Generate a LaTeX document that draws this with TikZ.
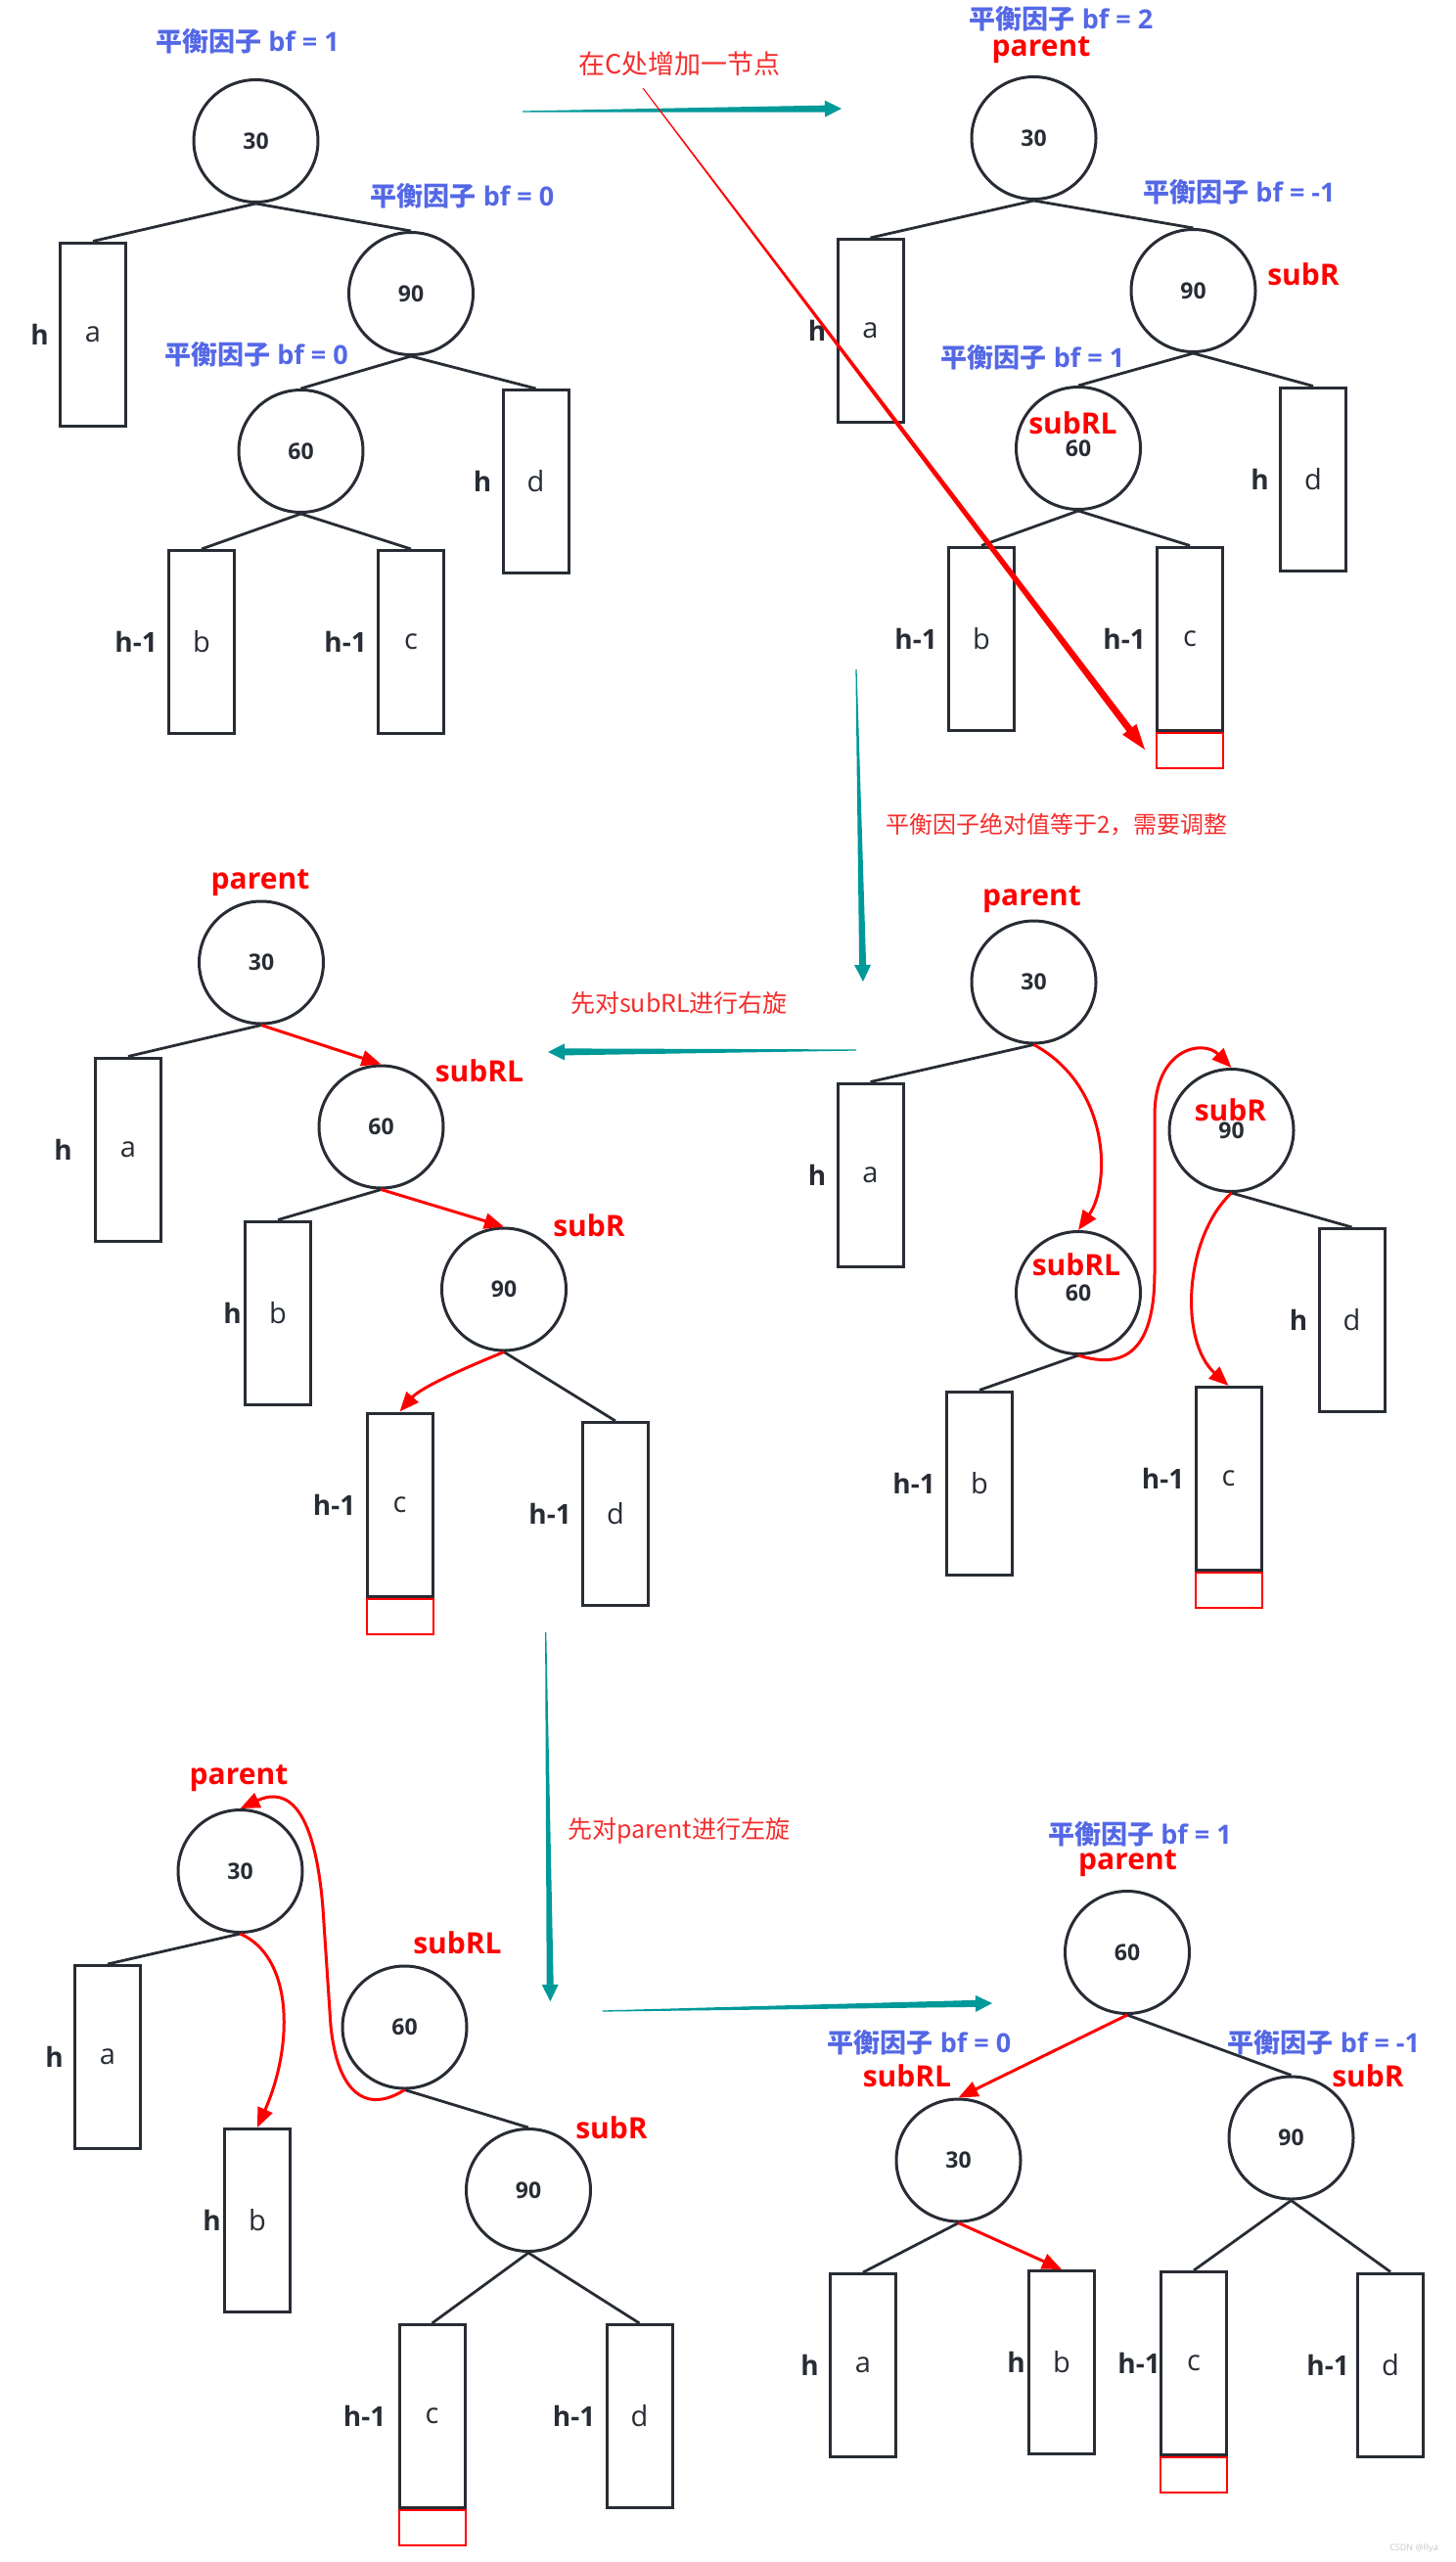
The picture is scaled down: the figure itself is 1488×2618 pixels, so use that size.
\documentclass[tikz,border=0pt]{standalone}
\usepackage{fontspec}
\setmainfont{Open Sans}
\newfontfamily\cjk{Noto Sans CJK SC}
\usetikzlibrary{calc,shapes.geometric,arrows.meta}
\definecolor{ink}{RGB}{40,44,52}
\definecolor{tealc}{RGB}{0,153,153}
\definecolor{bfblue}{RGB}{84,104,230}
\definecolor{rednote}{RGB}{245,45,45}
\newcommand\mynum{\bfseries\fontsize{23}{27}\selectfont}
\newcommand\myleaf{\fontsize{29}{34}\selectfont}
\newcommand\myh{\bfseries\fontsize{28}{33}\selectfont}
\newcommand\myrole{\bfseries\fontsize{30}{35}\selectfont}
\newcommand\mybf{\bfseries\fontsize{27}{32}\selectfont}
\newcommand\bfcjk[1]{{\cjk\bfseries #1}}
\newcommand\mynote[1]{\cjk\fontsize{#1}{#1}\selectfont}
% start, end, start half width, shaft end half width, head length, head half width, colour
\newcommand\taperarrow[7]{%
  \coordinate (tH) at ($(#2)!#5!(#1)$);
  \fill[#7] ($(#1)!#3!90:(#2)$) -- ($(tH)!#4!90:(#2)$) -- ($(tH)!#6!90:(#2)$) -- (#2)
     -- ($(tH)!#6!-90:(#2)$) -- ($(tH)!#4!-90:(#2)$) -- ($(#1)!#3!-90:(#2)$) -- cycle;
}
\tikzset{
  tnode/.style={ellipse, draw=ink, line width=3pt, minimum width=127pt, minimum height=125pt, inner sep=0pt, font=\mynum, text=ink},
  leaf/.style={rectangle, draw=ink, line width=3pt, minimum width=67pt, minimum height=187pt, inner sep=0pt, font=\myleaf, text=ink},
  newbox/.style={rectangle, draw=red, line width=2pt, minimum width=68pt, minimum height=36pt, inner sep=0pt, anchor=north},
  edge/.style={draw=ink, line width=2.8pt},
  rot/.style={draw=red, line width=3pt, -{Triangle[length=20pt,width=16pt]}},
  bflab/.style={text=bfblue, font=\mybf, inner sep=0pt},
  role/.style={text=red, font=\myrole, inner sep=0pt},
  note/.style={text=rednote, anchor=west, inner sep=0pt},
  hl/.style={text=ink, font=\myh, anchor=east, inner sep=0pt},
}
\begin{document}
\begin{tikzpicture}[x=1pt,y=-1pt]
\useasboundingbox (0,0) rectangle (1488,2618);

% ---------------- Panel 1
\node[tnode] (p1n30) at (261.5,144) {30};
\node[tnode] (p1n90) at (420,300) {90};
\node[tnode] (p1n60) at (307.5,461) {60};
\node[leaf] (p1a) at (95,341.5) {a};
\node[leaf] (p1d) at (547.5,492) {d};
\node[leaf] (p1b) at (206,656) {b};
\node[leaf] (p1c) at (420,656) {c};
\draw[edge] (p1n30.south) -- (p1a.north);
\draw[edge] (p1n30.south) -- (p1n90.north);
\draw[edge] (p1n90.south) -- (p1n60.north);
\draw[edge] (p1n90.south) -- (p1d.north);
\draw[edge] (p1n60.south) -- (p1b.north);
\draw[edge] (p1n60.south) -- (p1c.north);
\node[hl] (p1ha) at ($(p1a.west)+(-10,0)$) {h};
\node[hl] (p1hd) at ($(p1d.west)+(-10,0)$) {h};
\node[hl] (p1hb) at ($(p1b.west)+(-10,0)$) {h-1};
\node[hl] (p1hc) at ($(p1c.west)+(-10,0)$) {h-1};
\node[bflab] (p1bf1) at (253,42) {\bfcjk{平衡因子} bf = 1};
\node[bflab] (p1bf2) at (472.5,200) {\bfcjk{平衡因子} bf = 0};
\node[bflab] (p1bf3) at (262,362) {\bfcjk{平衡因子} bf = 0};

\node[note, font=\mynote{27}] (note1) at (591,65) {在C处增加一节点};

% ---------------- Panel 2
\node[tnode] (p2n30) at (1056.5,141) {30};
\node[tnode] (p2n90) at (1219.5,297) {90};
\node[tnode] (p2n60) at (1102,458) {60};
\node[leaf] (p2a) at (889.5,338) {a};
\node[leaf] (p2d) at (1342,489.5) {d};
\node[leaf] (p2b) at (1003,652.5) {b};
\node[leaf] (p2c) at (1216,652.5) {c};
\node[newbox] (p2new) at (p2c.south) {};
\draw[edge] (p2n30.south) -- (p2a.north);
\draw[edge] (p2n30.south) -- (p2n90.north);
\draw[edge] (p2n90.south) -- (p2n60.north);
\draw[edge] (p2n90.south) -- (p2d.north);
\draw[edge] (p2n60.south) -- (p2b.north);
\draw[edge] (p2n60.south) -- (p2c.north);
\node[hl] (p2ha) at ($(p2a.west)+(-10,0)$) {h};
\node[hl] (p2hd) at ($(p2d.west)+(-10,0)$) {h};
\node[hl] (p2hb) at ($(p2b.west)+(-10,0)$) {h-1};
\node[hl] (p2hc) at ($(p2c.west)+(-10,0)$) {h-1};
\node[bflab] (p2bf1) at (1084.5,19) {\bfcjk{平衡因子} bf = 2};
\node[bflab] (p2bf2) at (1266.5,196) {\bfcjk{平衡因子} bf = -1};
\node[bflab] (p2bf3) at (1055.5,365) {\bfcjk{平衡因子} bf = 1};
\node[role] (p2par) at (1064,51) {parent};
\node[role] (p2sr) at (1332,280) {subR};
\node[role] (p2srl) at (1096.5,432) {subRL};

% arrows of step 1
\coordinate (t1s) at (534,114); \coordinate (t1e) at (860,111);
\taperarrow{t1s}{t1e}{0.6pt}{3.5pt}{17pt}{8.5pt}{tealc}
\coordinate (r1s) at (657,90); \coordinate (r1e) at (1170,766);
\taperarrow{r1s}{r1e}{0.5pt}{3.5pt}{26pt}{9pt}{red}

% ---------------- step 2 arrow
\coordinate (t2s) at (875,684); \coordinate (t2e) at (882,1003);
\taperarrow{t2s}{t2e}{0.6pt}{3.5pt}{17pt}{8.5pt}{tealc}
\node[note, font=\mynote{24}] (note2) at (905,843) {平衡因子绝对值等于2，需要调整};

% ---------------- Panel 4
\node[tnode] (p4n30) at (1056.5,1003.5) {30};
\node[tnode] (p4n60) at (1102,1321) {60};
\node[tnode] (p4n90) at (1258.5,1155) {90};
\node[leaf] (p4a) at (889.5,1200.5) {a};
\node[leaf] (p4d) at (1381.5,1349) {d};
\node[leaf] (p4b) at (1001,1515.5) {b};
\node[leaf] (p4c) at (1255.5,1511) {c};
\node[newbox] (p4new) at (p4c.south) {};
\draw[edge] (p4n30.south) -- (p4a.north);
\draw[edge] (p4n60.south) -- (p4b.north);
\draw[edge] (p4n90.south) -- (p4d.north);
\draw[rot] (p4n30.south) .. controls (1135,1110) and (1135,1210) .. (p4n60.north);
\draw[rot] (p4n60.south) .. controls (1150,1400) and (1180,1380) .. (1180,1300) -- (1180,1140) .. controls (1180,1070) and (1230,1062) .. (p4n90.north);
\draw[rot] (p4n90.south) .. controls (1210,1265) and (1205,1370) .. (p4c.north);
\node[hl] (p4ha) at ($(p4a.west)+(-10,0)$) {h};
\node[hl] (p4hd) at ($(p4d.west)+(-10,0)$) {h};
\node[hl] (p4hb) at ($(p4b.west)+(-10,0)$) {h-1};
\node[hl] (p4hc) at ($(p4c.west)+(-10,0)$) {h-1};
\node[role] (p4par) at (1054.5,919.5) {parent};
\node[role] (p4srl) at (1100,1292) {subRL};
\node[role] (p4sr) at (1257.5,1134) {subR};

% ---------------- step 3 arrow
\coordinate (t3s) at (875,1073); \coordinate (t3e) at (560,1075);
\taperarrow{t3s}{t3e}{0.6pt}{3.5pt}{17pt}{8.5pt}{tealc}
\node[note, font=\mynote{25}] (note3) at (583,1025) {先对subRL进行右旋};

% ---------------- Panel 3
\node[tnode] (p3n30) at (267,983.5) {30};
\node[tnode] (p3n60) at (389.5,1151.5) {60};
\node[tnode] (p3n90) at (515,1317.5) {90};
\node[leaf] (p3a) at (131,1174.5) {a};
\node[leaf] (p3b) at (284,1341.5) {b};
\node[leaf] (p3c) at (408.5,1537.5) {c};
\node[leaf] (p3d) at (629,1547) {d};
\node[newbox] (p3new) at (p3c.south) {};
\draw[edge] (p3n30.south) -- (p3a.north);
\draw[edge] (p3n60.south) -- (p3b.north);
\draw[edge] (p3n90.south) -- (p3d.north);
\draw[rot] (p3n30.south) -- (p3n60.north);
\draw[rot] (p3n60.south) -- (p3n90.north);
\draw[rot] (p3n90.south) .. controls (470,1400) and (430,1418) .. (p3c.north);
\node[hl] (p3ha) at ($(p3a.west)+(-22,0)$) {h};
\node[hl] (p3hb) at ($(p3b.west)+(-2,0)$) {h};
\node[hl] (p3hc) at ($(p3c.west)+(-10,0)$) {h-1};
\node[hl] (p3hd) at ($(p3d.west)+(-10,0)$) {h-1};
\node[role] (p3par) at (266,902.6) {parent};
\node[role] (p3srl) at (490,1094) {subRL};
\node[role] (p3sr) at (602,1252) {subR};

% ---------------- step 4 arrows
\coordinate (t4s) at (557.7,1668); \coordinate (t4e) at (562.4,2045);
\taperarrow{t4s}{t4e}{0.6pt}{3.5pt}{17pt}{8.5pt}{tealc}
\node[note, font=\mynote{25}] (note4) at (580,1871) {先对parent进行左旋};
\coordinate (t5s) at (615.6,2055); \coordinate (t5e) at (1014,2047);
\taperarrow{t5s}{t5e}{0.6pt}{3.5pt}{17pt}{8.5pt}{tealc}

% ---------------- Panel 5
\node[tnode] (p5n30) at (245.5,1912) {30};
\node[tnode] (p5n60) at (413.5,2071.5) {60};
\node[tnode] (p5n90) at (540,2238) {90};
\node[leaf] (p5a) at (110,2102) {a};
\node[leaf] (p5b) at (263,2269) {b};
\node[leaf] (p5c) at (441.5,2469) {c};
\node[leaf] (p5d) at (653.5,2469) {d};
\node[newbox] (p5new) at (p5c.south) {};
\draw[edge] (p5n30.south) -- (p5a.north);
\draw[edge] (p5n60.south) -- (p5n90.north);
\draw[edge] (p5n90.south) -- (p5c.north);
\draw[edge] (p5n90.south) -- (p5d.north);
\draw[rot] (p5n60.south) .. controls (375,2160) and (345,2140) .. (338,2070) -- (330,1950) .. controls (322,1850) and (295,1825) .. (p5n30.north);
\draw[rot] (p5n30.south) .. controls (300,2000) and (300,2090) .. (p5b.north);
\node[hl] (p5ha) at ($(p5a.west)+(-10,0)$) {h};
\node[hl] (p5hb) at ($(p5b.west)+(-2,0)$) {h};
\node[hl] (p5hc) at ($(p5c.west)+(-12,0)$) {h-1};
\node[hl] (p5hd) at ($(p5d.west)+(-10,0)$) {h-1};
\node[role] (p5par) at (244,1817) {parent};
\node[role] (p5srl) at (467.5,1985) {subRL};
\node[role] (p5sr) at (625,2174) {subR};

% ---------------- Panel 6
\node[tnode] (p6n60) at (1152,1995) {60};
\node[tnode] (p6n30) at (979.5,2207.5) {30};
\node[tnode] (p6n90) at (1319.5,2184.5) {90};
\node[leaf] (p6a) at (882,2417) {a};
\node[leaf] (p6b) at (1085,2414) {b};
\node[leaf] (p6c) at (1220,2415) {c};
\node[leaf] (p6d) at (1421,2416.5) {d};
\node[newbox] (p6new) at (p6c.south) {};
\draw[edge] (p6n60.south) -- (p6n90.north);
\draw[edge] (p6n30.south) -- (p6a.north);
\draw[edge] (p6n90.south) -- (p6c.north);
\draw[edge] (p6n90.south) -- (p6d.north);
\draw[rot] (p6n60.south) -- (p6n30.north);
\draw[rot] (p6n30.south) -- (p6b.north);
\node[hl] (p6ha) at ($(p6a.west)+(-10,0)$) {h};
\node[hl] (p6hb) at ($(p6b.west)+(-2,0)$) {h};
\node[hl] (p6hc) at ($(p6c.west)+(1,0)$) {h-1};
\node[hl] (p6hd) at ($(p6d.west)+(-7,0)$) {h-1};
\node[bflab] (p6bf1) at (1165,1874.5) {\bfcjk{平衡因子} bf = 1};
\node[bflab] (p6bf2) at (939.5,2087.6) {\bfcjk{平衡因子} bf = 0};
\node[bflab] (p6bf3) at (1353,2087.6) {\bfcjk{平衡因子} bf = -1};
\node[role] (p6par) at (1152.5,1904) {parent};
\node[role] (p6srl) at (927,2121.5) {subRL};
\node[role] (p6sr) at (1398,2121.5) {subR};

\node[text=gray!45, font=\fontsize{9}{10}\selectfont, inner sep=0pt] (wm) at (1445,2604) {CSDN @Rya};
\end{tikzpicture}
\end{document}
